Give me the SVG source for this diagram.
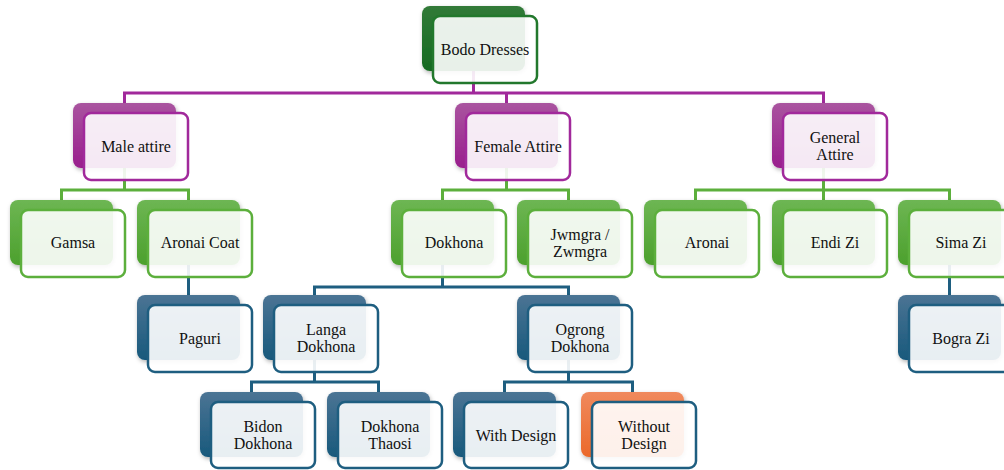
<svg xmlns="http://www.w3.org/2000/svg" width="1004" height="470" viewBox="0 0 1004 470">
<defs>
<linearGradient id="gPur" x1="0" y1="0" x2="0" y2="1"><stop offset="0" stop-color="#A9549F"/><stop offset="1" stop-color="#991E8D"/></linearGradient>
<linearGradient id="gGrn" x1="0" y1="0" x2="0" y2="1"><stop offset="0" stop-color="#6DB653"/><stop offset="1" stop-color="#4CA02D"/></linearGradient>
<linearGradient id="gDkg" x1="0" y1="0" x2="0" y2="1"><stop offset="0" stop-color="#317A38"/><stop offset="1" stop-color="#166A21"/></linearGradient>
<linearGradient id="gBlu" x1="0" y1="0" x2="0" y2="1"><stop offset="0" stop-color="#4B7494"/><stop offset="1" stop-color="#18597C"/></linearGradient>
<linearGradient id="gOrg" x1="0" y1="0" x2="0" y2="1"><stop offset="0" stop-color="#F0895D"/><stop offset="1" stop-color="#EB692A"/></linearGradient>
<filter id="sh" x="-20%" y="-20%" width="140%" height="150%"><feDropShadow dx="1" dy="2" stdDeviation="2" flood-color="#000" flood-opacity="0.3"/></filter>
</defs>
<style>
.back{filter:url(#sh)}
.front{fill:#fff;fill-opacity:0.9;stroke-width:2.5}
.pur .back{fill:url(#gPur)} .pur .front{stroke:#A1299B}
.grn .back{fill:url(#gGrn)} .grn .front{stroke:#5CAF3C}
.dkg .back{fill:url(#gDkg)} .dkg .front{stroke:#22782C}
.blu .back{fill:url(#gBlu)} .blu .front{stroke:#1E5E80}
.org .back{fill:url(#gOrg)} .org .front{stroke:#1E5E80}
.t{font-size:16px;fill:#111;text-anchor:middle}
.c{fill:none;stroke-width:3}
</style>
<g id="connectors">
<path class="c" stroke="#A1299B" d="M473.5 60V93M124.5 110V93H823.5V110M506.5 93V110"/>
<path class="c" stroke="#5CAF3C" d="M124.5 160V190M61.5 207V190H188.5V207M506.5 160V190M442.5 207V190H568.5V207M823.5 160V207M695.5 207V190H949.5V207"/>
<path class="c" stroke="#1E5E80" d="M188.5 255V302M442.5 255V287M314.5 302V287H568.5V302M949.5 255V302M314.5 350V382M251.5 399V382H378.5V399M568.5 350V382M504.5 399V382H632.5V399"/>
</g>
<g class="t" font-family="'Liberation Serif', 'Times New Roman', 'DejaVu Serif', serif">
<g id="bodo" class="dkg"><rect class="back" x="422" y="6" width="103" height="65" rx="8"/><rect class="front" x="433" y="16" width="104" height="67" rx="7"/><text x="485" y="55">Bodo Dresses</text></g>
<g id="male" class="pur"><rect class="back" x="73" y="103" width="103" height="65" rx="8"/><rect class="front" x="84" y="113" width="104" height="67" rx="7"/><text x="136" y="152">Male attire</text></g>
<g id="female" class="pur"><rect class="back" x="455" y="103" width="103" height="65" rx="8"/><rect class="front" x="466" y="113" width="104" height="67" rx="7"/><text x="518" y="152">Female Attire</text></g>
<g id="general" class="pur"><rect class="back" x="772" y="103" width="103" height="65" rx="8"/><rect class="front" x="783" y="113" width="104" height="67" rx="7"/><text x="835" y="143">General</text><text x="835" y="160">Attire</text></g>
<g id="gamsa" class="grn"><rect class="back" x="10" y="200" width="103" height="65" rx="8"/><rect class="front" x="21" y="210" width="104" height="67" rx="7"/><text x="73" y="248">Gamsa</text></g>
<g id="aronaicoat" class="grn"><rect class="back" x="137" y="200" width="103" height="65" rx="8"/><rect class="front" x="148" y="210" width="104" height="67" rx="7"/><text x="200" y="248">Aronai Coat</text></g>
<g id="dokhona" class="grn"><rect class="back" x="391" y="200" width="103" height="65" rx="8"/><rect class="front" x="402" y="210" width="104" height="67" rx="7"/><text x="454" y="248">Dokhona</text></g>
<g id="jwmgra" class="grn"><rect class="back" x="517" y="200" width="103" height="65" rx="8"/><rect class="front" x="528" y="210" width="104" height="67" rx="7"/><text x="580" y="240">Jwmgra /</text><text x="580" y="257">Zwmgra</text></g>
<g id="aronai" class="grn"><rect class="back" x="644" y="200" width="103" height="65" rx="8"/><rect class="front" x="655" y="210" width="104" height="67" rx="7"/><text x="707" y="248">Aronai</text></g>
<g id="endizi" class="grn"><rect class="back" x="772" y="200" width="103" height="65" rx="8"/><rect class="front" x="783" y="210" width="104" height="67" rx="7"/><text x="835" y="248">Endi Zi</text></g>
<g id="simazi" class="grn"><rect class="back" x="898" y="200" width="103" height="65" rx="8"/><rect class="front" x="909" y="210" width="104" height="67" rx="7"/><text x="961" y="248">Sima Zi</text></g>
<g id="paguri" class="blu"><rect class="back" x="137" y="295" width="103" height="65" rx="8"/><rect class="front" x="148" y="305" width="104" height="67" rx="7"/><text x="200" y="344">Paguri</text></g>
<g id="langa" class="blu"><rect class="back" x="263" y="295" width="103" height="65" rx="8"/><rect class="front" x="274" y="305" width="104" height="67" rx="7"/><text x="326" y="335">Langa</text><text x="326" y="352">Dokhona</text></g>
<g id="ogrong" class="blu"><rect class="back" x="517" y="295" width="103" height="65" rx="8"/><rect class="front" x="528" y="305" width="104" height="67" rx="7"/><text x="580" y="335">Ogrong</text><text x="580" y="352">Dokhona</text></g>
<g id="bograzi" class="blu"><rect class="back" x="898" y="295" width="103" height="65" rx="8"/><rect class="front" x="909" y="305" width="104" height="67" rx="7"/><text x="961" y="344">Bogra Zi</text></g>
<g id="bidon" class="blu"><rect class="back" x="200" y="392" width="103" height="65" rx="8"/><rect class="front" x="211" y="402" width="104" height="66" rx="7"/><text x="263" y="432">Bidon</text><text x="263" y="449">Dokhona</text></g>
<g id="thaosi" class="blu"><rect class="back" x="327" y="392" width="103" height="65" rx="8"/><rect class="front" x="338" y="402" width="104" height="66" rx="7"/><text x="390" y="432">Dokhona</text><text x="390" y="449">Thaosi</text></g>
<g id="withdesign" class="blu"><rect class="back" x="453" y="392" width="103" height="65" rx="8"/><rect class="front" x="464" y="402" width="104" height="66" rx="7"/><text x="516" y="441">With Design</text></g>
<g id="withoutdesign" class="org"><rect class="back" x="581" y="392" width="103" height="65" rx="8"/><rect class="front" x="592" y="402" width="104" height="66" rx="7"/><text x="644" y="432">Without</text><text x="644" y="449">Design</text></g>
</g>
</svg>
